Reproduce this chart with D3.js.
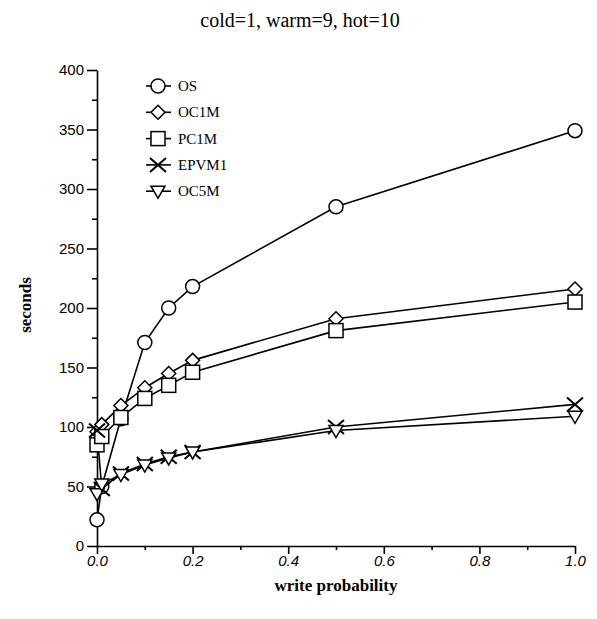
<!DOCTYPE html>
<html>
<head>
<meta charset="utf-8">
<script src="https://cdn.jsdelivr.net/npm/d3@7"></script>
<style>
  body { margin: 0; background: #fff; }
  svg { display: block; }
  .tick text { font-family: 'Liberation Sans', Arial, sans-serif; font-size: 15px; fill: #000; }
</style>
</head>
<body>
<div id="chart"></div>
<script>
'use strict';
const writeProb = [0, 0.01, 0.05, 0.1, 0.15, 0.2, 0.5, 1.0]
const seriesNames = ['OS', 'OC1M', 'PC1M', 'EPVM1', 'OC5M']
const osVals = [22, 50, 107, 171, 200, 218, 285, 349]
const oc1mVals = [96, 102, 118, 133, 145, 156, 191, 216]
const pc1mVals = [85, 92, 108, 124, 135, 146, 181, 205]
const epvm1Vals = [97, 48, 61, 69, 75, 79, 100, 119]
const oc5mVals = [44, 52, 60, 68, 74, 79, 97, 109]
const xTicks = [0, 0.2, 0.4, 0.6, 0.8, 1.0]
const yTicks = [0, 50, 100, 150, 200, 250, 300, 350, 400]
const titleText = 'cold=1, warm=9, hot=10'

const allVals = [osVals, oc1mVals, pc1mVals, epvm1Vals, oc5mVals]
const W = 597, H = 619
const margin = { top: 70, right: 22, bottom: 73, left: 97 }
const width = W - margin.left - margin.right
const height = H - margin.top - margin.bottom

const svg = d3.select('#chart').append('svg')
    .attr('width', W)
    .attr('height', H)
const g = svg.append('g')
    .attr('transform', `translate(${margin.left},${margin.top})`)

const x = d3.scaleLinear().domain([0, 1]).range([0, width])
const y = d3.scaleLinear().domain([0, 400]).range([height, 0])

// minor ticks
g.append('g')
    .attr('transform', `translate(0,${height})`)
    .call(d3.axisBottom(x).tickValues([0.1, 0.3, 0.5, 0.7, 0.9]).tickSize(4).tickFormat(''))
    .call(a => a.select('.domain').remove())
g.append('g')
    .call(d3.axisLeft(y).tickValues(d3.range(25, 400, 50)).tickSize(5).tickFormat(''))
    .call(a => a.select('.domain').remove())

g.append('g') // x axis
    .attr('transform', `translate(0,${height})`)
    .call(d3.axisBottom(x).tickValues(xTicks).tickSize(8).tickSizeOuter(0).tickPadding(1).tickFormat(d3.format('.1f')))
    .call(a => a.selectAll('.tick text').style('font-style', 'italic'))
g.append('g') // y axis
    .call(d3.axisLeft(y).tickValues(yTicks).tickSize(10).tickSizeOuter(0).tickPadding(3))
g.selectAll('.domain, .tick line').attr('stroke', '#000').attr('stroke-width', 1.6)

const line = d3.line()
    .x((d, i) => x(writeProb[i]))
    .y(d => y(d))

function marker(sel, k) {
    sel.attr('fill', '#fff').attr('stroke', '#000').attr('stroke-width', 1.5)
    if (k === 0) sel.append('circle').attr('r', 7)
    else if (k === 1) sel.append('path').attr('d', 'M0,-7L7,0L0,7L-7,0Z')
    else if (k === 2) sel.append('rect').attr('x', -7).attr('y', -7).attr('width', 14).attr('height', 14)
    else if (k === 3) sel.append('path').attr('d', 'M-8,-7L8,7M-8,7L8,-7').attr('stroke-width', 2)
    else sel.append('path').attr('d', 'M-7,-5L7,-5L0,7Z')
}

allVals.forEach((vals, k) => {
    g.append('path').datum(vals)
        .attr('fill', 'none')
        .attr('stroke', '#000')
        .attr('stroke-width', 1.6)
        .attr('d', line)
})
allVals.forEach((vals, k) => {
    vals.forEach((v, i) => {
        g.append('g')
            .attr('transform', `translate(${x(writeProb[i])},${y(v)})`)
            .call(marker, k)
    })
})

// legend
const legend = svg.append('g').attr('transform', 'translate(146,86)')
seriesNames.forEach((name, k) => {
    const row = legend.append('g').attr('transform', `translate(0,${k * 26.3})`)
    row.append('line').attr('x1', 0).attr('x2', 25).attr('stroke', '#000').attr('stroke-width', 1.6)
    row.append('g').attr('transform', 'translate(12,0)').call(marker, k)
    row.append('text')
        .attr('x', 32).attr('y', 5)
        .attr('font-family', "'Liberation Serif', 'Times New Roman', serif")
        .attr('font-size', 15)
        .text(name)
})

svg.append('text') // title
    .attr('x', 300).attr('y', 27)
    .attr('text-anchor', 'middle')
    .attr('font-family', "'Liberation Serif', 'Times New Roman', serif")
    .attr('font-size', 20)
    .text(titleText)
svg.append('text') // x axis label
    .attr('x', margin.left + width / 2).attr('y', 591)
    .attr('text-anchor', 'middle')
    .attr('font-family', "'Liberation Serif', 'Times New Roman', serif")
    .attr('font-weight', 'bold')
    .attr('font-size', 17)
    .text('write probability')
svg.append('text') // y axis label
    .attr('transform', 'translate(31,305) rotate(-90)')
    .attr('text-anchor', 'middle')
    .attr('font-family', "'Liberation Serif', 'Times New Roman', serif")
    .attr('font-weight', 'bold')
    .attr('font-size', 17)
    .text('seconds')
</script>
</body>
</html>
